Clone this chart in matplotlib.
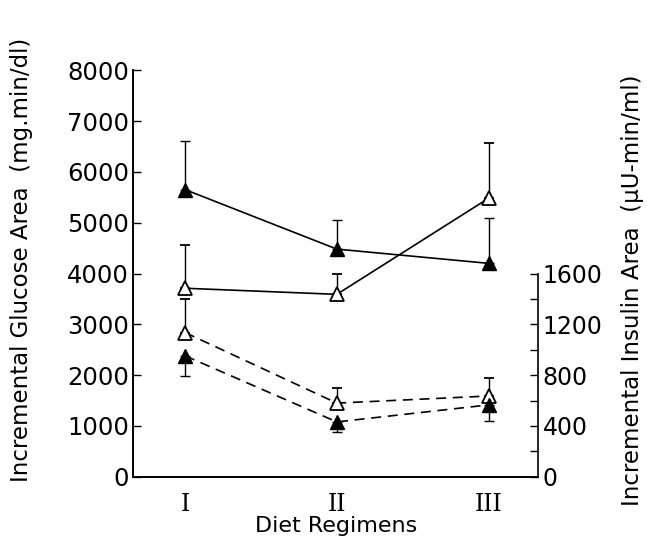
import matplotlib.pyplot as plt
from matplotlib.ticker import MultipleLocator

regimens = ["I", "II", "III"]
x_pos = [1, 2, 3]

# glucose area (mg.min/dl), solid lines, left axis
glucose_filled = [5650, 4480, 4200]
glucose_filled_err = [950, 580, 890]
glucose_open = [3710, 3590, 5480]
glucose_open_err = [850, 410, 1090]

# insulin area (uU-min/ml), dashed lines, right axis
insulin_open = [1135, 580, 636]
insulin_open_err = [265, 120, 142]
insulin_filled = [952, 432, 566]
insulin_filled_err = [158, 80, 126]

plt.rcParams["font.family"] = ["DejaVu Sans"]

fig = plt.figure(figsize=(6.47, 5.40), dpi=100)
ax = fig.add_axes([0.206, 0.117, 0.626, 0.753])
ax2 = ax.twinx()

ms = 10
cap = 3.5

ax.errorbar(x_pos, glucose_filled, yerr=[[0] * 3, glucose_filled_err], color="black",
            lw=1.2, marker="^", ms=ms, mfc="black", mec="black", capsize=cap, elinewidth=1.0)
ax.errorbar(x_pos, glucose_open, yerr=[[0] * 3, glucose_open_err], color="black",
            lw=1.2, marker="^", ms=ms, mfc="white", mec="black", mew=1.3, capsize=cap, elinewidth=1.0)

ax2.errorbar(x_pos, insulin_open, yerr=[[0] * 3, insulin_open_err], color="black",
             lw=1.2, ls=(0, (6, 4)), marker="^", ms=ms, mfc="white", mec="black", mew=1.3,
             capsize=cap, elinewidth=1.0)
ax2.errorbar(x_pos, insulin_filled, yerr=[insulin_filled_err, [0] * 3], color="black",
             lw=1.2, ls=(0, (6, 4)), marker="^", ms=ms, mfc="black", mec="black",
             capsize=cap, elinewidth=1.0)

ax.set_xlim(0.658, 3.328)
ax.set_ylim(0, 8000)
ax2.set_ylim(0, 3200)

ax.yaxis.set_major_locator(MultipleLocator(1000))
ax.tick_params(axis="y", direction="in", length=6, width=1.0, labelsize=17.5, pad=3)
ax.set_xticks(x_pos)
ax.set_xticklabels(regimens, family="DejaVu Serif", fontsize=17)
ax.tick_params(axis="x", length=0, pad=12)

ax2.set_yticks([0, 400, 800, 1200, 1600])
ax2.set_yticks([200, 600, 1000, 1400], minor=True)
ax2.tick_params(axis="y", which="major", direction="in", length=6, width=1.0, labelsize=17, pad=3)
ax2.tick_params(axis="y", which="minor", direction="in", length=6, width=1.0)
ax2.spines["right"].set_bounds(0, 1600)

for a in (ax, ax2):
    a.spines["top"].set_visible(False)
    a.spines["left"].set_linewidth(1.2)
    a.spines["bottom"].set_linewidth(1.2)
    a.spines["right"].set_linewidth(1.2)
ax.spines["right"].set_visible(False)

ax.set_ylabel("Incremental Glucose Area  (mg.min/dl)", fontsize=16.5)
ax.yaxis.set_label_coords(-0.247, 0.533)
ax2.set_ylabel("Incremental Insulin Area  (\u03bcU-min/ml)", fontsize=16.5)
ax2.yaxis.set_label_coords(1.205, 0.46)
ax.set_xlabel("Diet Regimens", fontsize=16, labelpad=0)

fig.savefig("out.png", dpi=100)
